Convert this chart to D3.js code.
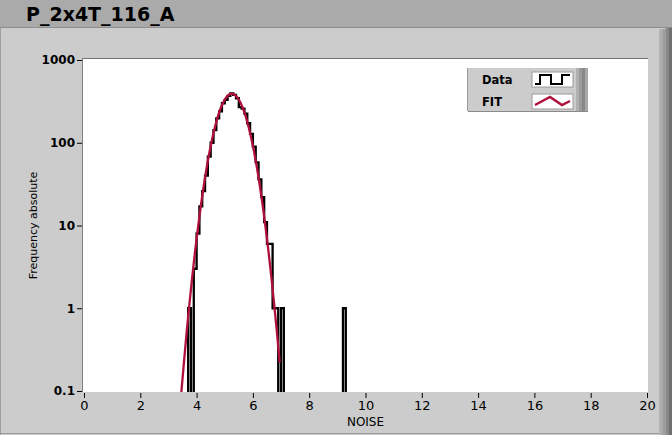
<!DOCTYPE html>
<html><head><meta charset="utf-8">
<script src="https://cdn.jsdelivr.net/npm/d3@7"></script>
<style>body{margin:0;background:#cccccc;overflow:hidden}svg{display:block}</style>
</head><body><svg id="c" width="672" height="435"></svg>
<script>
// ---- data ----
const chartTitle = "P_2x4T_116_A";
const xLabel = "NOISE";
const yLabel = "Frequency absolute";
const xTicks = [0, 2, 4, 6, 8, 10, 12, 14, 16, 18, 20];
const yTicks = [0.1, 1, 10, 100, 1000];
const yTickLabels = ["0.1", "1", "10", "100", "1000"];
const legendNames = ["Data", "FIT"];

// histogram bins (left edge, width 0.1) and counts
const binLeft = [3.7, 3.8, 3.9, 4.0, 4.1, 4.2, 4.3, 4.4, 4.5, 4.6, 4.7, 4.8, 4.9, 5.0, 5.1, 5.2, 5.3, 5.4, 5.5, 5.6, 5.7, 5.8, 5.9, 6.0, 6.1, 6.2, 6.3, 6.4, 6.5, 6.6, 6.7, 6.8, 6.9, 7.0, 9.2];
const binCount = [1, 0, 3, 8, 17, 26, 40, 68, 100, 142, 197, 240, 300, 330, 368, 395, 378, 345, 270, 258, 225, 172, 128, 90, 58, 36, 22, 11, 6, 6, 1, 1, 0, 1, 1];
const binWidth = 0.1;

// Gaussian fit curve points
const fitX = [3.45, 3.55, 3.65, 3.75, 3.85, 3.95, 4.05, 4.15, 4.25, 4.35, 4.45, 4.55, 4.65, 4.75, 4.85, 4.95, 5.05, 5.15, 5.25, 5.35, 5.45, 5.55, 5.65, 5.75, 5.85, 5.95, 6.05, 6.15, 6.25, 6.35, 6.45, 6.55, 6.65, 6.75, 6.85, 6.95];
const fitY = [0.09, 0.22, 0.53, 1.17, 2.48, 5.0, 9.5, 17.2, 29.6, 48.3, 75.0, 110.5, 154.6, 205.5, 259.2, 310.6, 353.3, 381.8, 391.8, 381.8, 353.3, 310.6, 259.2, 205.5, 154.6, 110.5, 75.0, 48.3, 29.6, 17.2, 9.5, 5.0, 2.48, 1.17, 0.53, 0.22];

// ---- drawing ----
const svg = d3.select("#c");
const W = 672, H = 435;
const P = {l: 84, r: 647, t: 60, b: 391};
const fitColor = "#b0103c";

// frame / background
svg.append("rect").attr("x", 0).attr("y", 0).attr("width", W).attr("height", H).attr("fill", "#cccccc");
svg.append("rect").attr("x", 0).attr("y", 0).attr("width", W).attr("height", 27).attr("fill", "#aaaaaa");
svg.append("line").attr("x1", 0).attr("x2", W).attr("y1", 27.5).attr("y2", 27.5).attr("stroke", "#8e8e8e");
svg.append("line").attr("x1", 0.5).attr("x2", 0.5).attr("y1", 28).attr("y2", H).attr("stroke", "#a0a0a0");
svg.append("line").attr("x1", 0).attr("x2", 660).attr("y1", 433.5).attr("y2", 433.5).attr("stroke", "#9a9a9a");
const sideCols = ["#b0b0b0", "#9e9e9e", "#8a8a8a", "#707070"];
sideCols.forEach((c, i) => {
  svg.append("rect").attr("x", 659 + i * 3.3).attr("y", 28 + (i < 2 ? 1 : 0)).attr("width", 3.4).attr("height", H - 28).attr("fill", c);
});

svg.append("text").attr("x", 26).attr("y", 21)
  .attr("font-family", "DejaVu Sans").attr("font-weight", "bold").attr("font-size", 19)
  .attr("fill", "#000").text(chartTitle);

// plot area
svg.append("rect").attr("x", P.l - 1).attr("y", P.t - 1).attr("width", P.r - P.l + 2).attr("height", P.b - P.t + 2).attr("fill", "#ffffff");
svg.append("line").attr("x1", P.l - 1).attr("x2", P.r + 1).attr("y1", P.t - 1.5).attr("y2", P.t - 1.5).attr("stroke", "#707070");
svg.append("line").attr("x1", P.l - 1.5).attr("x2", P.l - 1.5).attr("y1", P.t - 2).attr("y2", P.b + 1).attr("stroke", "#808080");

const x = d3.scaleLinear().domain([0, 20]).range([P.l, P.r]);
const y = d3.scaleLog().domain([0.1, 1000]).range([P.b, P.t]);

svg.append("defs").append("clipPath").attr("id", "clip")
  .append("rect").attr("x", P.l - 1).attr("y", P.t - 1).attr("width", P.r - P.l + 2).attr("height", P.b - P.t + 2);

// axes
const xAxis = d3.axisBottom(x).tickValues(xTicks).tickSize(5).tickPadding(3).tickFormat(d3.format("d"));
const gx = svg.append("g").attr("transform", `translate(0,${P.b + 2})`).call(xAxis);
gx.select(".domain").remove();
gx.selectAll("line").attr("stroke", "#000");
gx.selectAll("text").attr("font-family", "DejaVu Sans").attr("font-size", 13).attr("fill", "#000");

const yAxis = d3.axisLeft(y).tickValues(yTicks).tickSize(5).tickPadding(2).tickFormat((d, i) => yTickLabels[i]);
const gy = svg.append("g").attr("transform", `translate(${P.l - 2},0)`).call(yAxis);
gy.select(".domain").remove();
gy.selectAll("line").attr("stroke", "#000");
gy.selectAll("text").attr("font-family", "DejaVu Sans").attr("font-weight", "bold").attr("font-size", 12).attr("fill", "#000");

svg.append("text").attr("x", (P.l + P.r) / 2).attr("y", 426).attr("text-anchor", "middle")
  .attr("font-family", "DejaVu Sans").attr("font-size", 12).attr("fill", "#000").text(xLabel);
svg.append("text").attr("transform", `translate(37,${(P.t + P.b) / 2}) rotate(-90)`).attr("text-anchor", "middle")
  .attr("font-family", "DejaVu Sans").attr("font-size", 11).attr("fill", "#000").text(yLabel);

// histogram step path
const floorV = 0.01;
const pts = [];
binLeft.forEach((l, i) => {
  const r = l + binWidth;
  const v = binCount[i] > 0 ? binCount[i] : floorV;
  const prevR = i > 0 ? binLeft[i - 1] + binWidth : null;
  if (i === 0 || Math.abs(prevR - l) > 1e-6) pts.push([l, floorV]);
  pts.push([l, v]);
  pts.push([r, v]);
  const nextL = i < binLeft.length - 1 ? binLeft[i + 1] : null;
  if (nextL === null || Math.abs(nextL - r) > 1e-6) pts.push([r, floorV]);
});
const plotG = svg.append("g").attr("clip-path", "url(#clip)");
plotG.append("path").datum(pts)
  .attr("d", d3.line().x(d => x(d[0])).y(d => y(d[1])))
  .attr("fill", "none").attr("stroke", "#000").attr("stroke-width", 2.3);
plotG.append("path").datum(fitX.map((v, i) => [v, fitY[i]]))
  .attr("d", d3.line().x(d => x(d[0])).y(d => y(d[1])))
  .attr("fill", "none").attr("stroke", fitColor).attr("stroke-width", 2.3);

// legend
const L = {x: 468, y: 68, w: 108, h: 43};
svg.append("rect").attr("x", L.x).attr("y", L.y).attr("width", L.w).attr("height", L.h).attr("fill", "#cccccc");
svg.append("line").attr("x1", L.x - 0.5).attr("x2", L.x - 0.5).attr("y1", L.y).attr("y2", L.y + L.h).attr("stroke", "#9a9a9a");
svg.append("line").attr("x1", L.x).attr("x2", L.x + L.w + 12).attr("y1", L.y + L.h + 0.5).attr("y2", L.y + L.h + 0.5).attr("stroke", "#8a8a8a");
["#b0b0b0", "#9a9a9a", "#888888", "#a8a8a8"].forEach((c, i) => {
  svg.append("rect").attr("x", L.x + L.w + i * 3).attr("y", L.y).attr("width", 3).attr("height", L.h).attr("fill", c);
});
legendNames.forEach((n, i) => {
  const cy = L.y + 11 + i * 22;
  svg.append("text").attr("x", 482).attr("y", cy + 4.5)
    .attr("font-family", "DejaVu Sans").attr("font-weight", "bold").attr("font-size", 11.5).attr("fill", "#000").text(n);
  svg.append("rect").attr("x", 532).attr("y", cy - 7).attr("width", 41).attr("height", 15).attr("fill", "#fff")
    .attr("stroke", "#9a9a9a").attr("stroke-width", 1);
});
const dy = L.y + 11;
svg.append("path").attr("d", `M535,${dy + 5}H540V${dy - 4}H551V${dy + 5}H562V${dy - 4}H570`)
  .attr("fill", "none").attr("stroke", "#000").attr("stroke-width", 2);
const fy = L.y + 33;
svg.append("path").attr("d", `M535,${fy + 4}L550,${fy - 4}L562,${fy + 4}L570,${fy}`)
  .attr("fill", "none").attr("stroke", fitColor).attr("stroke-width", 2.5);
</script></body></html>
